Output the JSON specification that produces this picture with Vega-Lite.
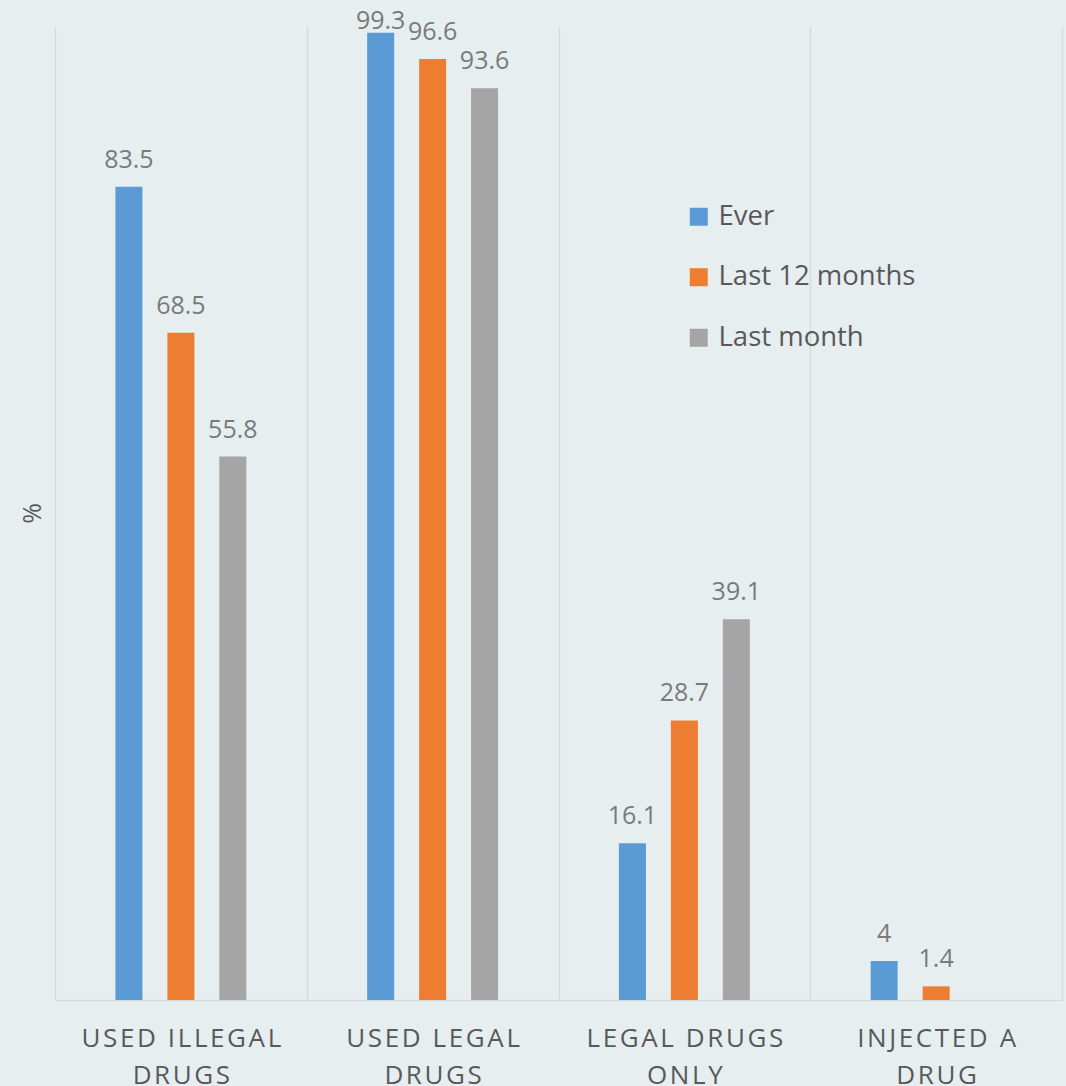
{
  "$schema": "https://vega.github.io/schema/vega-lite/v6.json",
  "autosize": {"type": "none"},
  "width": 1007,
  "height": 974,
  "padding": {"left": 55, "top": 26, "right": 4, "bottom": 86},
  "background": "#e7eef0",
  "config": {
    "view": {"stroke": null},
    "font": "Open Sans"
  },
  "data": {
    "values": [
      {"category": "USED ILLEGAL DRUGS", "period": "Ever", "value": 83.5},
      {"category": "USED ILLEGAL DRUGS", "period": "Last 12 months", "value": 68.5},
      {"category": "USED ILLEGAL DRUGS", "period": "Last month", "value": 55.8},
      {"category": "USED LEGAL DRUGS", "period": "Ever", "value": 99.3},
      {"category": "USED LEGAL DRUGS", "period": "Last 12 months", "value": 96.6},
      {"category": "USED LEGAL DRUGS", "period": "Last month", "value": 93.6},
      {"category": "LEGAL DRUGS ONLY", "period": "Ever", "value": 16.1},
      {"category": "LEGAL DRUGS ONLY", "period": "Last 12 months", "value": 28.7},
      {"category": "LEGAL DRUGS ONLY", "period": "Last month", "value": 39.1},
      {"category": "INJECTED A DRUG", "period": "Ever", "value": 4},
      {"category": "INJECTED A DRUG", "period": "Last 12 months", "value": 1.4}
    ]
  },
  "encoding": {
    "x": {
      "field": "category",
      "type": "nominal",
      "sort": null,
      "scale": {"paddingInner": 0, "paddingOuter": 0},
      "axis": {
        "title": null,
        "tickBand": "extent",
        "grid": true,
        "gridColor": "#d9d9d9",
        "gridWidth": 1.5,
        "ticks": false,
        "domain": true,
        "domainColor": "#d9d9d9",
        "domainWidth": 1.5,
        "labelAngle": 0,
        "labelFontSize": 26,
        "labelColor": "#595959",
        "labelPadding": 25,
        "labelLineHeight": 37,
        "labelBaseline": "top",
        "labelLimit": 0,
        "labelExpr": "[replace(substring(datum.label, 0, lastindexof(datum.label, ' ')), /(.)(?=.)/g, '$1\u200a'), replace(substring(datum.label, lastindexof(datum.label, ' ') + 1), /(.)(?=.)/g, '$1\u200a')]"
      }
    },
    "xOffset": {
      "field": "period",
      "type": "nominal",
      "scale": {"domain": ["Ever", "Last 12 months", "Last month"], "paddingInner": 0, "paddingOuter": 0.923}
    },
    "y": {
      "field": "value",
      "type": "quantitative",
      "scale": {"domain": [0, 100], "nice": false},
      "axis": {
        "title": "%",
        "labels": false,
        "ticks": false,
        "domain": false,
        "grid": false,
        "titleFontSize": 25,
        "titleFontWeight": "normal",
        "titleColor": "#595959",
        "titleX": -23,
        "titleY": 487,
        "titleBaseline": "middle",
        "titleAlign": "center"
      }
    }
  },
  "layer": [
    {
      "mark": {"type": "bar", "width": 27},
      "encoding": {
        "color": {
          "field": "period",
          "type": "nominal",
          "scale": {"domain": ["Ever", "Last 12 months", "Last month"], "range": ["#5b9bd5", "#ed7d31", "#a5a5a5"]},
          "legend": {
            "title": null,
            "orient": "none",
            "legendX": 630,
            "legendY": 177,
            "padding": 0,
            "symbolType": "square",
            "symbolSize": 324,
            "symbolStrokeWidth": 0,
            "symbolOpacity": 1,
            "labelFontSize": 27.5,
            "labelColor": "#595959",
            "labelOffset": 6,
            "rowPadding": 31.5,
            "labelLimit": 0
          }
        }
      }
    },
    {
      "transform": [{"filter": "datum.value < 98"}],
      "mark": {"type": "text", "baseline": "alphabetic", "dy": -19, "fontSize": 25, "color": "#7a7a7a"},
      "encoding": {"text": {"field": "value", "type": "quantitative"}}
    },
    {
      "transform": [{"filter": "datum.value >= 98"}],
      "mark": {"type": "text", "baseline": "alphabetic", "dy": -4, "fontSize": 25, "color": "#7a7a7a"},
      "encoding": {"text": {"field": "value", "type": "quantitative"}}
    }
  ]
}
